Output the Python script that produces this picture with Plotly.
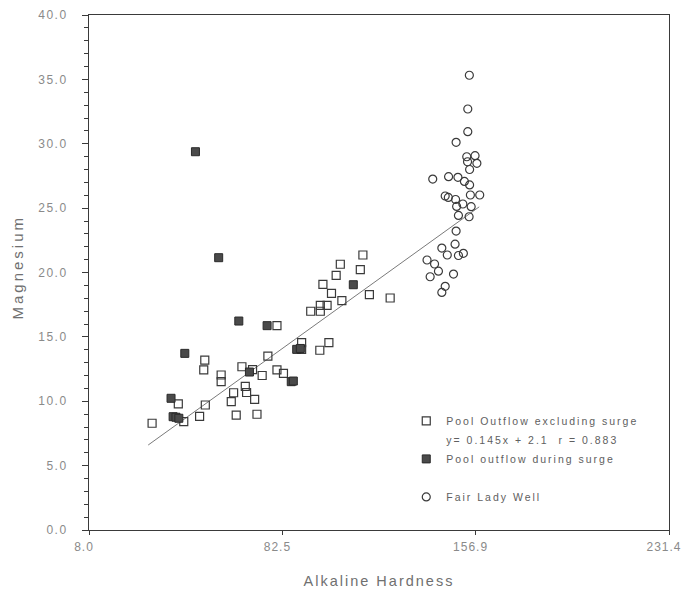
import plotly.graph_objects as go

# ---- data ----
excl_x = [32.3, 42.4, 44.5, 52.6, 52.2, 52.8, 50.6, 58.9, 58.9, 80.4, 66.9, 71.0, 76.9, 74.7,
          80.4, 82.9, 63.7, 62.8, 68.2, 68.7, 71.8, 64.7, 72.7, 89.9, 89.9, 96.9, 100.4, 93.4,
          97.1, 97.1, 99.7, 105.4, 101.4, 98.1, 103.2, 113.5, 104.8, 112.5, 116.0, 124.0]
excl_y = [8.29, 9.79, 8.41, 13.2, 12.43, 9.71, 8.83, 12.04, 11.52, 15.87, 12.68, 12.45, 13.51, 12.0,
          12.43, 12.16, 10.66, 9.97, 11.15, 10.68, 10.15, 8.93, 8.99, 14.56, 14.03, 13.96, 14.55, 16.99,
          16.99, 17.44, 17.44, 17.81, 18.38, 19.08, 19.77, 21.36, 20.64, 20.23, 18.28, 18.02]

surge_x = [49.0, 57.95, 65.7, 76.6, 44.9, 69.8, 85.9, 86.7, 88.0, 89.4, 109.8, 39.6, 40.4, 41.5, 42.6]
surge_y = [29.38, 21.15, 16.23, 15.87, 13.72, 12.27, 11.52, 11.57, 14.03, 14.1, 19.05, 10.23, 8.80, 8.76, 8.68]

well_x = [154.5, 153.9, 153.9, 149.4, 153.5, 156.7, 153.8, 157.4, 154.6, 140.4, 146.5, 150.1, 152.6,
          154.6, 158.5, 154.9, 145.2, 146.4, 149.2, 152.0, 149.6, 155.2, 150.3, 154.4, 149.4, 149.0,
          143.9, 146.0, 150.3, 152.2, 138.2, 141.1, 142.6, 139.4, 148.4, 145.2, 143.9]
well_y = [35.32, 32.7, 30.94, 30.11, 28.99, 29.07, 28.6, 28.48, 28.0, 27.26, 27.44, 27.39, 27.07,
          26.8, 26.02, 26.02, 25.94, 25.83, 25.67, 25.32, 25.13, 25.11, 24.43, 24.33, 23.22, 22.2,
          21.9, 21.36, 21.32, 21.49, 20.97, 20.66, 20.1, 19.67, 19.88, 18.93, 18.45]

trend_x = [30.8, 158.3]
trend_y = [6.6, 25.1]

x_ticks = [8.0, 82.5, 156.9, 231.4]
x_tick_labels = ["8.0", "82.5", "156.9", "231.4"]

name_excl = "Pool Outflow excluding surge"
name_eq = "y= 0.145x + 2.1  r = 0.883"
name_surge = "Pool outflow during surge"
name_well = "Fair Lady Well"

FONT = "Liberation Sans, Arial, sans-serif"
EDGE = "#3a3a3a"

fig = go.Figure()

fig.add_trace(go.Scatter(x=trend_x, y=trend_y, mode="lines", showlegend=False,
                         line=dict(color="#7a7a7a", width=1), hoverinfo="skip"))

fig.add_trace(go.Scatter(x=excl_x, y=excl_y, mode="markers", name=name_excl,
                         marker=dict(symbol="square-open", size=8, color=EDGE,
                                     line=dict(width=1.2, color=EDGE))))
fig.add_trace(go.Scatter(x=[None], y=[None], mode="markers", name=name_eq,
                         marker=dict(color="rgba(0,0,0,0)", size=1)))
fig.add_trace(go.Scatter(x=surge_x, y=surge_y, mode="markers", name=name_surge,
                         marker=dict(symbol="square", size=8, color="#4a4a4a",
                                     line=dict(width=1, color="#2a2a2a"))))
fig.add_trace(go.Scatter(x=[None], y=[None], mode="markers", name=" ",
                         marker=dict(color="rgba(0,0,0,0)", size=1)))
fig.add_trace(go.Scatter(x=well_x, y=well_y, mode="markers", name=name_well,
                         marker=dict(symbol="circle-open", size=8, color=EDGE,
                                     line=dict(width=1.2, color=EDGE))))

fig.update_layout(
    width=685, height=599,
    margin=dict(l=88.5, r=16, t=15, b=69, autoexpand=False),
    paper_bgcolor="white", plot_bgcolor="white",
    font=dict(family=FONT, color="#808080", size=11),
    showlegend=True,
    legend=dict(x=0.547, y=0.24, xanchor="left", yanchor="top",
                bgcolor="rgba(0,0,0,0)", borderwidth=0, tracegroupgap=0,
                font=dict(family=FONT, size=10.4, color="#606060"), itemwidth=30),
    xaxis=dict(range=[8.0, 231.4], tickvals=x_ticks, ticktext=x_tick_labels,
               automargin=False,
               showgrid=False, zeroline=False, showline=True, linecolor=EDGE, linewidth=1,
               mirror=True, ticks="outside", ticklen=4, tickcolor=EDGE,
               ticklabelstandoff=2, ticklabelshift=-5,
               tickfont=dict(family=FONT, size=12, color="#8a8a8a"),
               title=dict(text="Alkaline Hardness", standoff=22,
                          font=dict(family=FONT, size=14.5, color="#707070"))),
    yaxis=dict(range=[0, 40], dtick=5, tickformat=".1f",
               automargin=False,
               showgrid=False, zeroline=False, showline=True, linecolor=EDGE, linewidth=1,
               mirror=True, ticks="outside", ticklen=6, tickcolor=EDGE,
               ticklabelstandoff=12,
               minor=dict(dtick=1, ticks="outside", ticklen=4, tickcolor=EDGE),
               tickfont=dict(family=FONT, size=12, color="#8a8a8a")),
    annotations=[dict(text="Magnesium", textangle=-90, showarrow=False,
                      xref="paper", yref="paper", x=-0.123, y=0.51,
                      xanchor="center", yanchor="middle",
                      font=dict(family=FONT, size=15, color="#707070"))],
)

post = """
document.body.style.margin='0';
var s=document.createElement('style');
s.textContent='body{margin:0;} .legendtext{letter-spacing:2px;} .xtick text{letter-spacing:1px;} .ytick text{letter-spacing:1.5px;} .g-xtitle text{letter-spacing:2px;} .annotation-text{letter-spacing:3px;}';
document.head.appendChild(s);
var gd=document.getElementById('{plot_id}');
Plotly.relayout(gd, {'legend.font.size': 10.5});
"""

fig.write_html("out.html", post_script=post, config={"displayModeBar": False})
